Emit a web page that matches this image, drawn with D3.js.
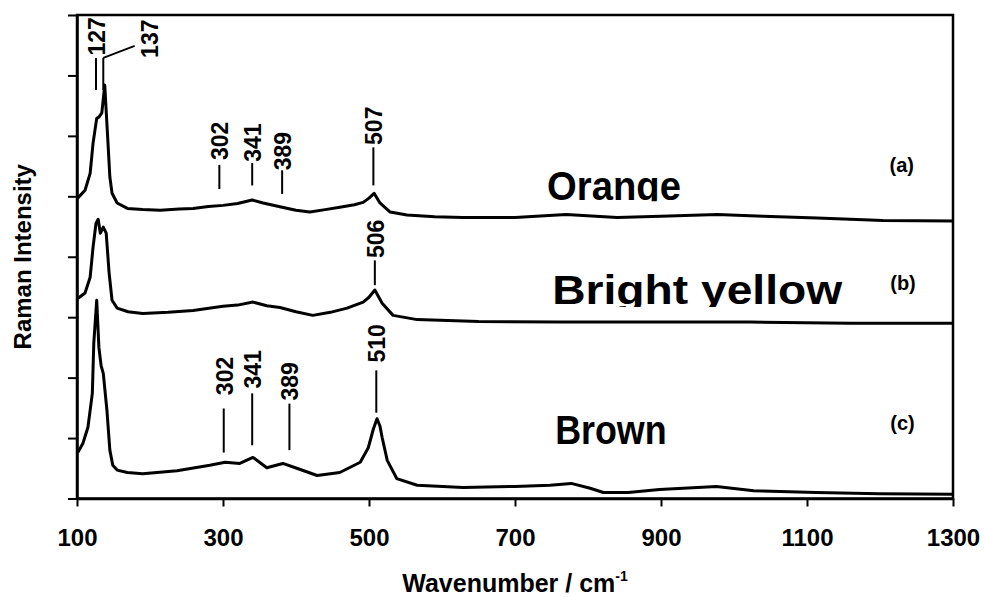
<!DOCTYPE html>
<html>
<head>
<meta charset="utf-8">
<script src="https://cdn.jsdelivr.net/npm/d3@7/dist/d3.min.js"></script>
<style>
  body { margin: 0; background: #fff; }
  text { font-family: Arial, "Liberation Sans", sans-serif; font-weight: bold; fill: #000; }
</style>
</head>
<body>
<div class="chart"></div>
<script>
// spectra: [wavenumber, intensity (arb.)]
var orange = [
  [101,4.97],[111,5.10],[118,5.38],[122,5.88],[127,6.29],[130,6.31],[134,6.38],[138,6.84],
  [142,5.98],[145,5.32],[148,5.05],[155,4.89],[169,4.80],[190,4.78],[214,4.77],[240,4.79],
  [259,4.80],[280,4.83],[300,4.85],[320,4.88],[340,4.94],[355,4.89],[381,4.82],[400,4.77],
  [419,4.74],[440,4.78],[460,4.82],[480,4.86],[492,4.90],[500,4.97],[507,5.05],[515,4.89],
  [529,4.74],[552,4.69],[590,4.66],[629,4.65],[700,4.65],[770,4.70],[840,4.65],[900,4.67],
  [977,4.70],[1040,4.67],[1114,4.64],[1204,4.60],[1300,4.59]
];
var brightYellow = [
  [101,3.31],[111,3.40],[118,3.66],[122,4.16],[126,4.55],[129,4.62],[132,4.39],[136,4.49],
  [140,4.39],[144,3.73],[148,3.28],[155,3.15],[170,3.09],[190,3.06],[225,3.08],[259,3.11],
  [300,3.18],[320,3.20],[341,3.25],[360,3.19],[378,3.16],[400,3.09],[423,3.03],[447,3.08],
  [470,3.15],[492,3.25],[500,3.33],[508,3.45],[518,3.23],[533,3.03],[566,2.96],[650,2.93],
  [762,2.92],[885,2.92],[1022,2.92],[1159,2.90],[1300,2.90]
];
var brown = [
  [101,0.76],[108,0.91],[115,1.18],[121,1.74],[123,2.57],[127,3.28],[130,2.50],[133,2.20],
  [136,2.07],[141,1.46],[145,0.80],[149,0.55],[155,0.47],[169,0.43],[190,0.41],[237,0.46],
  [282,0.55],[303,0.60],[323,0.58],[341,0.68],[360,0.51],[382,0.58],[401,0.50],[429,0.38],
  [460,0.43],[488,0.60],[499,0.84],[506,1.15],[511,1.32],[515,1.20],[518,1.01],[525,0.63],
  [538,0.33],[566,0.22],[629,0.18],[700,0.20],[748,0.22],[777,0.25],[803,0.17],[821,0.10],
  [855,0.10],[898,0.15],[976,0.20],[1027,0.13],[1113,0.10],[1199,0.08],[1300,0.07]
];

var xTicks = [100, 300, 500, 700, 900, 1100, 1300];
var yTicks = [0, 1, 2, 3, 4, 5, 6, 7, 8];

// peak markers: leader from y0 to y1, label bottom at ty
var peaks = [
  { label: '127', wn: 126, y0: 6.76, y1: 7.29, ty: 7.33 },
  { label: '302', wn: 295, y0: 5.12, y1: 5.52, ty: 5.60 },
  { label: '341', wn: 340, y0: 5.18, y1: 5.55, ty: 5.57 },
  { label: '389', wn: 381, y0: 5.04, y1: 5.43, ty: 5.43 },
  { label: '507', wn: 506, y0: 5.18, y1: 5.81, ty: 5.85 },
  { label: '506', wn: 508, y0: 3.53, y1: 3.94, ty: 3.98 },
  { label: '302', wn: 301, y0: 0.76, y1: 1.49, ty: 1.71 },
  { label: '341', wn: 340, y0: 0.88, y1: 1.74, ty: 1.82 },
  { label: '389', wn: 391, y0: 0.80, y1: 1.57, ty: 1.62 },
  { label: '510', wn: 510, y0: 1.42, y1: 2.12, ty: 2.25 }
];
// the 137 leader bends off to the right
var bentPeak = { label: '137', wn: 136, y0: 6.76, y1: 7.29, bendWn: 179, bendY: 7.49, textWn: 198, ty: 7.29 };

var sampleNames = [
  { text: 'Orange', wn: 744, v: 4.94, clip: 4.92 },
  { text: 'Bright yellow', wn: 751, v: 3.21, clip: 3.17 },
  { text: 'Brown', wn: 755, v: 0.91, clip: null }
];
var sampleTags = [
  { text: '(a)', wn: 1213, v: 5.40 },
  { text: '(b)', wn: 1214, v: 3.45 },
  { text: '(c)', wn: 1214, v: 1.13 }
];

var W = 984, H = 597;
var x = d3.scaleLinear().domain([100, 1300]).range([77, 953]);
var y = d3.scaleLinear().domain([0, 8]).range([498.5, 15]);

var svg = d3.select('.chart')
  .append('svg')
    .attr('width', W)
    .attr('height', H);

// axes
var xAxis = svg.append('g')
  .attr('transform', 'translate(0,' + y(0) + ')')
  .call(d3.axisBottom(x).tickValues(xTicks).tickSize(8).tickSizeOuter(0).tickFormat(d3.format('d')));
xAxis.selectAll('text')
  .attr('y', 47).attr('dy', null)
  .style('font-size', '24px');

var yAxis = svg.append('g')
  .attr('transform', 'translate(' + x(100) + ',0)')
  .call(d3.axisLeft(y).tickValues(yTicks).tickSize(9).tickSizeOuter(0).tickFormat(''));

svg.selectAll('.domain').attr('stroke-width', 2.5);
svg.selectAll('.tick line').attr('stroke-width', 2);

// frame top and right
svg.append('rect')
  .attr('x', x(100)).attr('y', y(8))
  .attr('width', x(1300) - x(100)).attr('height', y(0) - y(8))
  .attr('fill', 'none').attr('stroke', '#000').attr('stroke-width', 2.5);

// axis titles
svg.append('text')
  .attr('x', (x(100) + x(1300)) / 2).attr('y', 592)
  .attr('text-anchor', 'middle')
  .style('font-size', '25px')
  .text('Wavenumber / cm')
  .append('tspan')
    .attr('dy', -11)
    .style('font-size', '14px')
    .text('-1');

svg.append('text')
  .attr('transform', 'translate(31,' + (y(0) + y(8)) / 2 + ') rotate(-90)')
  .attr('text-anchor', 'middle')
  .style('font-size', '24px')
  .text('Raman Intensity');

// spectra
var line = d3.line()
  .x(function(d) { return x(d[0]); })
  .y(function(d) { return y(d[1]); });

svg.selectAll('path.spectrum')
  .data([orange, brightYellow, brown])
  .enter()
  .append('path')
    .attr('class', 'spectrum')
    .attr('d', line)
    .attr('fill', 'none')
    .attr('stroke', '#000')
    .attr('stroke-width', 3)
    .attr('stroke-linejoin', 'round');

// peak leaders and labels
var pk = svg.append('g');
pk.selectAll('line')
  .data(peaks.concat([bentPeak]))
  .enter()
  .append('line')
    .attr('x1', function(d) { return x(d.wn); })
    .attr('x2', function(d) { return x(d.wn); })
    .attr('y1', function(d) { return y(d.y0); })
    .attr('y2', function(d) { return y(d.y1); })
    .attr('stroke', '#000').attr('stroke-width', 2);

pk.append('line')
  .attr('x1', x(bentPeak.wn)).attr('y1', y(bentPeak.y1))
  .attr('x2', x(bentPeak.bendWn)).attr('y2', y(bentPeak.bendY))
  .attr('stroke', '#000').attr('stroke-width', 1.8);

pk.selectAll('text')
  .data(peaks.concat([{ label: bentPeak.label, wn: bentPeak.textWn, ty: bentPeak.ty }]))
  .enter()
  .append('text')
    .attr('transform', function(d) { return 'translate(' + (x(d.wn) + 9) + ',' + y(d.ty) + ') rotate(-90)'; })
    .style('font-size', '23px')
    .text(function(d) { return d.label; });

// sample names, clipped at the bottom like the original
var defs = svg.append('defs');
sampleNames.forEach(function(d, i) {
  var g = svg.append('g');
  if (d.clip !== null) {
    defs.append('clipPath').attr('id', 'clip' + i)
      .append('rect')
        .attr('x', 0).attr('y', 0)
        .attr('width', W).attr('height', y(d.clip));
    g.attr('clip-path', 'url(#clip' + i + ')');
  }
  g.append('text')
    .attr('x', x(d.wn)).attr('y', y(d.v))
    .style('font-size', '40px')
    .attr('textLength', d.text.length * 22.3)
    .attr('lengthAdjust', 'spacingAndGlyphs')
    .text(d.text);
});

svg.selectAll('text.tag')
  .data(sampleTags)
  .enter()
  .append('text')
    .attr('class', 'tag')
    .attr('x', function(d) { return x(d.wn); })
    .attr('y', function(d) { return y(d.v); })
    .style('font-size', '20px')
    .text(function(d) { return d.text; });
</script>
</body>
</html>
